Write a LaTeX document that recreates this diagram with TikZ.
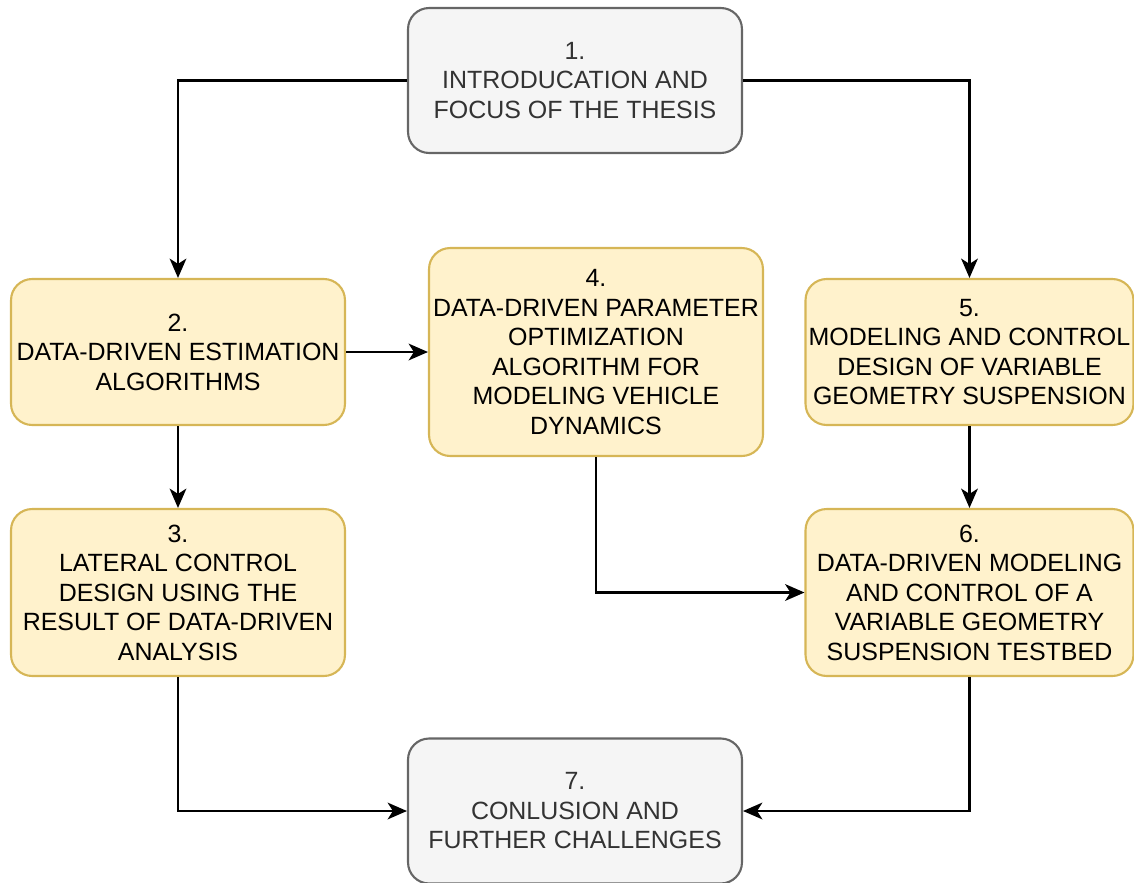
\documentclass[tikz,border=0pt]{standalone}
\usepackage{fontspec}
\setmainfont{Liberation Sans}
\usetikzlibrary{arrows.meta}
\definecolor{grayfill}{HTML}{F5F5F5}
\definecolor{graydraw}{HTML}{666666}
\definecolor{graytext}{HTML}{333333}
\definecolor{yellowfill}{HTML}{FFF2CC}
\definecolor{yellowdraw}{HTML}{D6B656}
\begin{document}
\begin{tikzpicture}[x=0.02cm, y=-0.02cm,
  chapter/.style={rounded corners=12pt, line width=1.2pt, align=center,
    inner sep=0pt, minimum width=6.68cm,
    font=\fontsize{14.2}{16.8}\selectfont},
  outer/.style={chapter, fill=grayfill, draw=graydraw, text=graytext},
  inner/.style={chapter, fill=yellowfill, draw=yellowdraw, text=black},
  arr/.style={line width=1.3pt, -{Stealth[length=11pt, width=9.5pt, inset=3pt]}}]
% \draw [help lines,color=green] (0,0) grid[step=50] (1134,883);
\clip (0,0) rectangle (1134,883);
\useasboundingbox (0,0) rectangle (1134,883);
%%%%%%%%%
\node [outer, minimum height=2.9cm] (b1) at (575,80.5)
  {1.\\INTRODUCATION AND\\FOCUS OF THE THESIS};
\node [inner, minimum height=2.92cm] (b2) at (178,352)
  {2.\\DATA-DRIVEN ESTIMATION\\ALGORITHMS};
\node [inner, minimum height=3.34cm] (b3) at (178,592.5)
  {3.\\LATERAL CONTROL\\DESIGN USING THE\\RESULT OF DATA-DRIVEN\\ANALYSIS};
\node [inner, minimum height=4.16cm] (b4) at (596,352)
  {4.\\DATA-DRIVEN PARAMETER\\OPTIMIZATION\\ALGORITHM FOR\\MODELING VEHICLE\\DYNAMICS};
\node [inner, minimum height=2.92cm, minimum width=6.56cm] (b5) at (969.5,352)
  {5.\\MODELING AND CONTROL\\DESIGN OF VARIABLE\\GEOMETRY SUSPENSION};
\node [inner, minimum height=3.34cm, minimum width=6.56cm] (b6) at (969.5,592.5)
  {6.\\DATA-DRIVEN MODELING\\AND CONTROL OF A\\VARIABLE GEOMETRY\\SUSPENSION TESTBED};
\node [outer, minimum height=2.9cm] (b7) at (575,811)
  {7.\\CONLUSION AND\\FURTHER CHALLENGES};
%%%%%%%%%
\draw [arr] (b1.west) -| (b2.north);
\draw [arr] (b1.east) -| (b5.north);
\draw [arr] (b2.east) -- (b4.west);
\draw [arr] (b2.south) -- (b3.north);
\draw [arr] (b5.south) -- (b6.north);
\draw [arr] (b4.south) |- (b6.west);
\draw [arr] (b3.south) |- (b7.west);
\draw [arr] (b6.south) |- (b7.east);
\end{tikzpicture}
\end{document}
